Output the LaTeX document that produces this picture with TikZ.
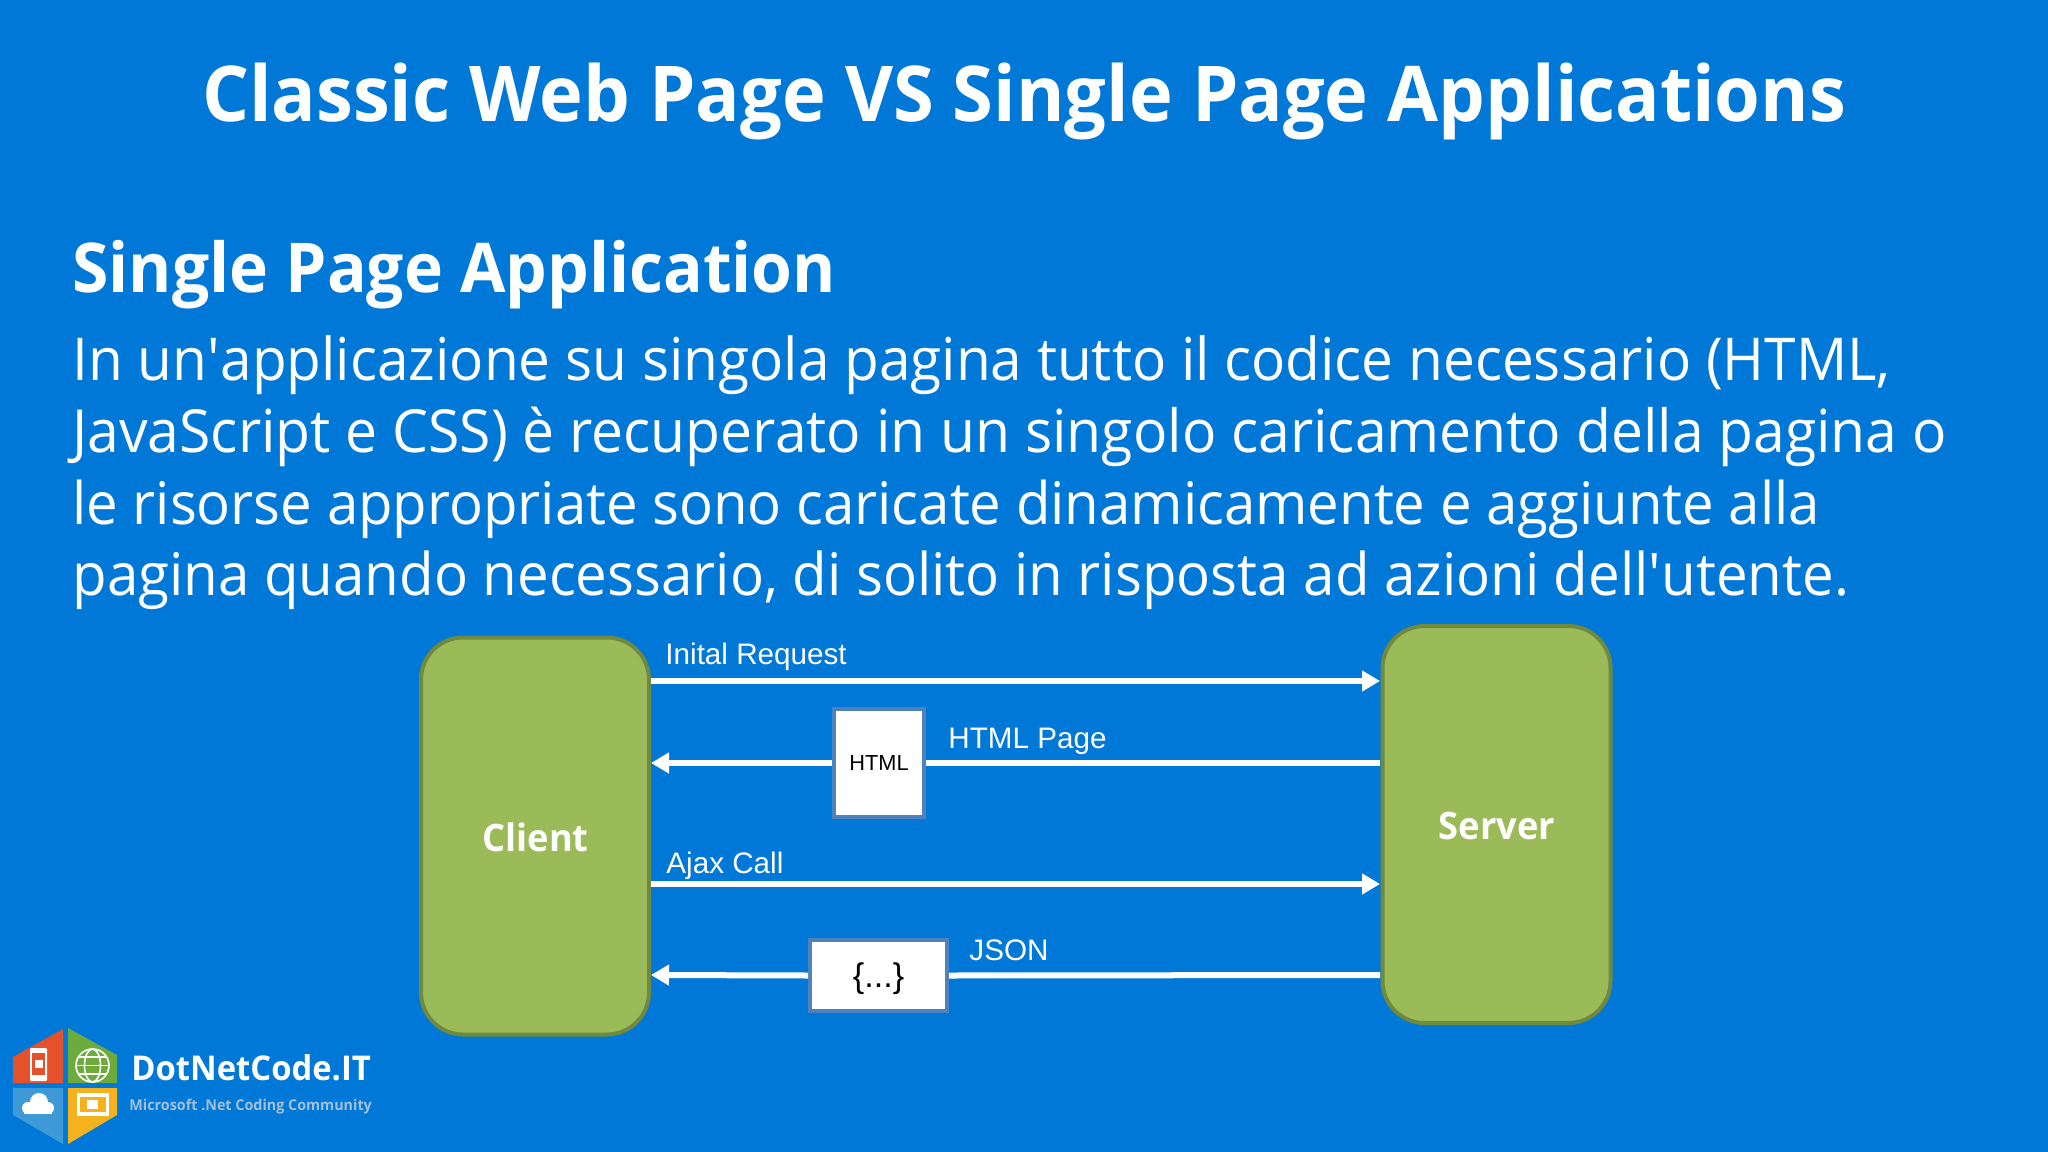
\documentclass[tikz,border=0pt]{standalone}
\usepackage{fontspec}
\setmainfont{Open Sans}[FakeStretch=0.96]
\newfontfamily\arialfont{Liberation Sans}
\usetikzlibrary{arrows.meta}
\definecolor{slidebg}{HTML}{0078D7}
\definecolor{boxgreen}{HTML}{9BBB59}
\definecolor{boxedge}{HTML}{71893F}
\definecolor{docedge}{HTML}{4F81BD}
\definecolor{logored}{HTML}{E4512B}
\definecolor{logogreen}{HTML}{6CAB3C}
\definecolor{logoblue}{HTML}{3D9AD6}
\definecolor{logoyellow}{HTML}{F4B21C}
\definecolor{subgrey}{HTML}{A3C0D9}
\newcommand{\px}[1]{#1*0.46875pt}
\tikzset{
    endbox/.style={draw=boxedge, line width=\px{4}, fill=boxgreen, rounded corners=\px{42}, inner sep=0pt},
    endtext/.style={anchor=base, text=white, inner sep=0pt, font=\fontsize{17.7}{21}\selectfont\bfseries},
    docbox/.style={draw=docedge, line width=\px{4}, fill=white, text=black, inner sep=0pt, font=\arialfont\fontsize{10.2}{12}\selectfont},
    flowline/.style={draw=white, line width=\px{6}},
    flowarrow/.style={flowline, -{Triangle[length=\px{18}, width=\px{20}]}},
    flowlabel/.style={anchor=base west, text=white, inner sep=0pt, font=\arialfont\fontsize{13.9}{17}\selectfont},
    bodyline/.style={anchor=base west, text=white, inner sep=0pt, font=\fontsize{#1}{33}\selectfont},
    iconline/.style={draw=white, line width=\px{1.6}},
}
\begin{document}
\begin{tikzpicture}[x=0.46875pt, y=-0.46875pt]
    \fill[slidebg] (0,0) rectangle (2048,1152);
    \useasboundingbox (0,0) rectangle (2048,1152);

    \node[anchor=base, text=white, inner sep=0pt, font=\fontsize{36.1}{43}\selectfont\bfseries] (title) at (1024,122) {Classic Web Page VS Single Page Applications};
    \node[bodyline=32, font=\fontsize{32.2}{38}\selectfont\bfseries] (heading) at (72,293) {Single Page Application};
    \node[bodyline=27.7] (lineone) at (72,380) {In un\textquotesingle applicazione su singola pagina tutto il codice necessario (HTML,};
    \node[bodyline=27.85] (linetwo) at (72,452) {JavaScript e CSS) è recuperato in un singolo caricamento della pagina o};
    \node[bodyline=27.5] (linethree) at (72,524) {le risorse appropriate sono caricate dinamicamente e aggiunte alla};
    \node[bodyline=27.55] (linefour) at (72,595) {pagina quando necessario, di solito in risposta ad azioni dell\textquotesingle utente.};

    \node[endbox, minimum width=\px{228}, minimum height=\px{397}] (client) at (535,836) {};
    \node[endbox, minimum width=\px{228}, minimum height=\px{397}] (server) at (1496.5,824.5) {};
    \node[endtext] (clienttext) at (535.5,851) {Client};
    \node[endtext] (servertext) at (1497,839) {Server};

    \node[docbox, minimum width=\px{90}, minimum height=\px{108}] (htmlbox) at (879,763) {HTML};
    \node[docbox, minimum width=\px{137}, minimum height=\px{71}, font=\arialfont\fontsize{16}{19}\selectfont] (jsonbox) at (878.5,975.5) {\raisebox{-1.5pt}[0.75em][0.25em]{\{...\}}};

    \coordinate (reqstart) at (651,681);
    \coordinate (reqend) at (1380,681);
    \coordinate (pagestart) at (1380,763);
    \coordinate (pageend) at (651,763);
    \coordinate (ajaxstart) at (651,884);
    \coordinate (ajaxend) at (1380,884);
    \coordinate (jsonstart) at (1380,975);
    \coordinate (jsonend) at (651,975);

    \draw[flowarrow] (reqstart) -- (reqend);
    \draw[flowline] (pagestart) -- (htmlbox.east);
    \draw[flowarrow] (htmlbox.west) -- (pageend);
    \draw[flowarrow] (ajaxstart) -- (ajaxend);
    \draw[flowline] (jsonstart) -- (jsonbox.east);
    \draw[flowarrow] (jsonbox.west) -- (jsonend);

    \node[flowlabel] (reqlabel) at (665,664) {Inital Request};
    \node[flowlabel] (pagelabel) at (948,748) {HTML Page};
    \node[flowlabel] (ajaxlabel) at (666,873) {Ajax Call};
    \node[flowlabel] (jsonlabel) at (969,960) {JSON};

    % logo
    \fill[logored] (63,1029) -- (13,1057) -- (13,1083) -- (63,1083) -- cycle;
    \fill[logogreen] (68,1028) -- (117,1055) -- (117,1083) -- (68,1083) -- cycle;
    \fill[logoblue] (13,1088) -- (63,1088) -- (63,1144) -- (13,1115) -- cycle;
    \fill[logoyellow] (68,1088) -- (117,1088) -- (117,1115) -- (68,1144) -- cycle;

    % phone
    \fill[white, rounded corners=0.5pt] (30,1048) rectangle (47,1081);
    \fill[logored] (32,1053) rectangle (45,1075);
    \fill[white] (34.5,1060) rectangle (42.5,1068);
    % globe
    \draw[iconline] (92.5,1065.5) ellipse (16.5 and 16.5);
    \draw[iconline] (92.5,1065.5) ellipse (8 and 16.5);
    \draw[iconline] (76,1065.5) -- (109,1065.5);
    \draw[iconline] (79,1057) -- (106,1057);
    \draw[iconline] (79,1074) -- (106,1074);
    % cloud
    \fill[white] (24,1108) rectangle (52,1114);
    \fill[white] (28,1108) ellipse (6 and 6);
    \fill[white] (39,1102) ellipse (9 and 9);
    \fill[white] (48,1108) ellipse (6 and 6);
    % tablet
    \fill[white] (77,1093) rectangle (109,1116);
    \fill[logoyellow] (80,1097) rectangle (106,1112);
    \fill[white] (87,1100) rectangle (98,1109);

    \node[anchor=base west, text=white, inner sep=0pt, font=\fontsize{16}{19}\selectfont\bfseries] (logotext) at (131,1080) {DotNetCode.IT};
    \node[anchor=base west, text=subgrey, inner sep=0pt, font=\fontsize{7}{9}\selectfont\bfseries] (logosub) at (129,1110) {Microsoft .Net Coding Community};
\end{tikzpicture}
\end{document}
